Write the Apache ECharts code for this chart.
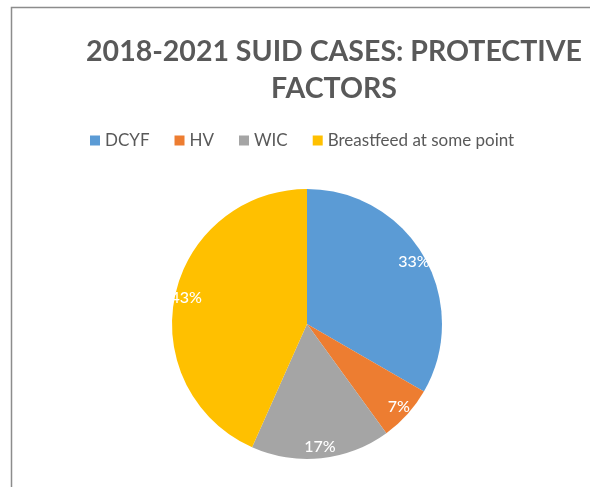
<!DOCTYPE html>
<html>
<head>
<meta charset="utf-8">
<script src="https://cdn.jsdelivr.net/npm/echarts@6/dist/echarts.min.js"></script>
<style>html,body{margin:0;padding:0;background:#fff}#c{width:590px;height:487px}</style>
</head>
<body>
<div id="c"></div>
<script>
const categories = ['DCYF', 'HV', 'WIC', 'Breastfeed at some point'];
const caseCounts = [10, 2, 5, 13];
const sliceColors = ['#5B9BD5', '#ED7D31', '#A5A5A5', '#FFC000'];
const titleText = '2018-2021 SUID CASES: PROTECTIVE\nFACTORS';

const chart = echarts.init(document.getElementById('c'), null, {renderer: 'canvas'});
const total = caseCounts.reduce((a, b) => a + b, 0);
const pieData = categories.map((n, i) => ({name: n, value: caseCounts[i], itemStyle: {color: sliceColors[i]}}));
const labelData = categories.map((n, i) => ({name: n, value: caseCounts[i]}));
const font = 'Lato, "Open Sans", sans-serif';

chart.setOption({
  backgroundColor: '#fff',
  animation: false,
  title: {
    text: titleText,
    left: 329, top: 28, textAlign: 'center',
    textStyle: {fontFamily: font, fontWeight: 'bold', fontSize: 28.5, color: '#595959', lineHeight: 37}
  },
  legend: {
    data: categories,
    top: 127, left: 85,
    itemWidth: 10, itemHeight: 10, itemGap: 25,
    icon: 'rect',
    textStyle: {fontFamily: font, fontSize: 17, color: '#595959'},
    selectedMode: false
  },
  graphic: [{
    type: 'polyline',
    shape: {points: [[11.5, 487], [11.5, 7.5], [590, 7.5]]},
    style: {stroke: '#8c8c8c', lineWidth: 1.5, fill: null},
    silent: true
  }],
  series: [{
    type: 'pie',
    center: [307, 324],
    radius: [0, 135],
    startAngle: 90,
    clockwise: true,
    data: pieData,
    label: {show: false},
    labelLine: {show: false},
    silent: true
  }, {
    type: 'pie',
    center: [307, 324],
    radius: [106, 135],
    startAngle: 90,
    clockwise: true,
    data: labelData,
    itemStyle: {color: 'rgba(0,0,0,0)'},
    label: {
      show: true, position: 'inside',
      formatter: p => Math.round(p.value / total * 100) + '%',
      color: '#fff', fontFamily: font, fontSize: 16, fontWeight: 500
    },
    labelLine: {show: false},
    silent: true
  }]
});
</script>
</body>
</html>
